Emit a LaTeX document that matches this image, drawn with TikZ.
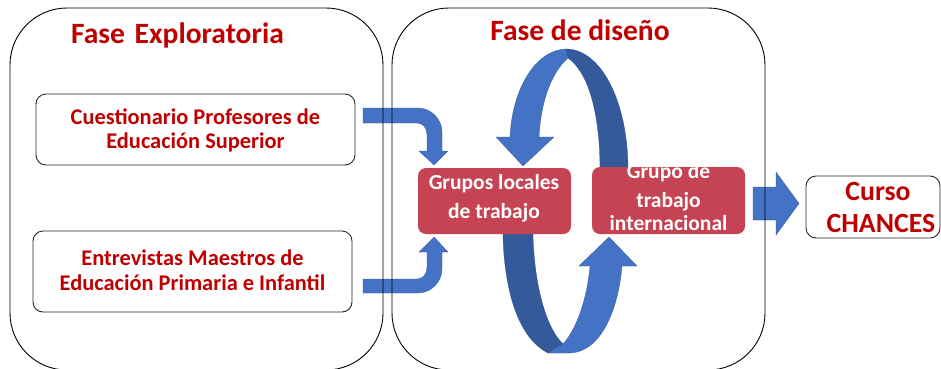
\documentclass[tikz,border=0pt]{standalone}
\usepackage{fontspec}
\setmainfont{Carlito}
\definecolor{tred}{HTML}{C00000}
\definecolor{lblue}{HTML}{4472C4}
\definecolor{dblue}{HTML}{345A9C}
\definecolor{rbox}{HTML}{C54352}
\begin{document}
\begin{tikzpicture}[x=1pt,y=-1pt,
  bigbox/.style={draw=black, line width=0.9pt, rounded corners=57pt, inner sep=0pt},
  txtbox/.style={draw=black!85, line width=0.9pt, rounded corners=10pt, inner sep=0pt, fill=white},
  redbox/.style={fill=rbox, rounded corners=8pt, inner sep=0pt},
  title/.style={font=\fontsize{29.5}{31}\selectfont\bfseries, text=tred, inner sep=0pt, anchor=base},
  btxt/.style={font=\fontsize{22.4}{24}\selectfont\bfseries, text=tred, inner sep=0pt, anchor=base},
  wtxt/.style={font=\fontsize{21.5}{24}\selectfont\bfseries, text=white, inner sep=0pt, anchor=base},
  ctxt/.style={font=\fontsize{27.8}{30}\selectfont\bfseries, text=tred, inner sep=0pt, anchor=base},
  light/.style={fill=lblue, draw=lblue!80!black, line width=0.3pt},
  dark/.style={fill=dblue, draw=dblue!90!black, line width=0.3pt}]
\useasboundingbox (0,0) rectangle (941,368);
\fill[white] (0,0) rectangle (941,368);

% left bent arrows
\path[light] (363,108) -- (418,108) .. controls (431,108) and (442,119) .. (442,132)
  -- (442,151) -- (448,151) -- (434,165) -- (419,151) -- (427,151) -- (427,135)
  .. controls (427,128) and (423,123) .. (417,123) -- (363,123) -- cycle;
\path[light] (363,293) -- (418,293) .. controls (431,293) and (442,282) .. (442,269)
  -- (442,252) -- (448,252) -- (434,237) -- (419,252) -- (427,252) -- (427,267)
  .. controls (427,274) and (423,279) .. (417,279) -- (363,279) -- cycle;

% upper circular arrow
\path[dark] (565,49) .. controls (600,48) and (628,100) .. (628,170) -- (600,170)
  .. controls (600,112) and (588,72) .. (568,58) -- cycle;
\path[light] (510,137) .. controls (512,90) and (535,50) .. (566,49) -- (568,58)
  .. controls (552,72) and (541,100) .. (539,137) -- (554,137) -- (523,166) -- (496,137) -- cycle;

% lower circular arrow
\path[dark] (503,230) -- (533,230) -- (533,237) .. controls (535,292) and (548,330) .. (563,344)
  -- (548,353) .. controls (522,340) and (505,300) .. (503,237) -- cycle;
\path[light] (548,353) -- (563,344) .. controls (576,330) and (587,300) .. (590,266)
  -- (579,266) -- (609,237) -- (637,266) -- (622,266)
  .. controls (618,312) and (600,352) .. (570,353) -- cycle;

% right block arrow
\path[light] (753,187) -- (776,187) -- (776,172) -- (799,203.5) -- (776,235) -- (776,220) -- (753,220) -- cycle;

% big phase boxes
\node[bigbox, minimum width=373pt, minimum height=362pt] (expl) at (196.5,189) {};
\node[bigbox, minimum width=373pt, minimum height=362pt] (dise) at (578.5,189) {};
\node[title] (texpl) at (177.5,43) {Fase\hspace{3pt} Exploratoria};
\node[title] (tdise) at (580,40) {Fase de diseño};

% left text boxes
\node[txtbox, minimum width=319pt, minimum height=71pt] (cuest) at (195.5,129.5) {};
\node[btxt] (c1) at (195.5,124) {Cuestionario Profesores de};
\node[btxt] (c2) at (195.5,148) {Educación Superior};
\node[txtbox, minimum width=319pt, minimum height=81pt] (entr) at (192.5,271.5) {};
\node[btxt] (e1) at (192.5,265.5) {Entrevistas Maestros de};
\node[btxt] (e2) at (192.5,290) {Educación Primaria e Infantil};

% red boxes
\node[redbox, minimum width=153pt, minimum height=66pt] (loc) at (494.5,201) {};
\node[wtxt] (l1) at (494,189) {Grupos locales};
\node[wtxt] (l2) at (494,218) {de trabajo};
\node[redbox, minimum width=153pt, minimum height=67pt] (int) at (668.5,200.5) {};
\node[wtxt] (i1) at (668.5,178) {Grupo de};
\node[wtxt] (i2) at (668.5,207) {trabajo};
\node[wtxt] (i3) at (668.5,230) {internacional};

% curso box
\node[txtbox, minimum width=134pt, minimum height=62pt] (curso) at (873,207) {};
\node[ctxt] (cu1) at (878,200) {Curso};
\node[ctxt] (cu2) at (881,232) {CHANCES};
\end{tikzpicture}
\end{document}
